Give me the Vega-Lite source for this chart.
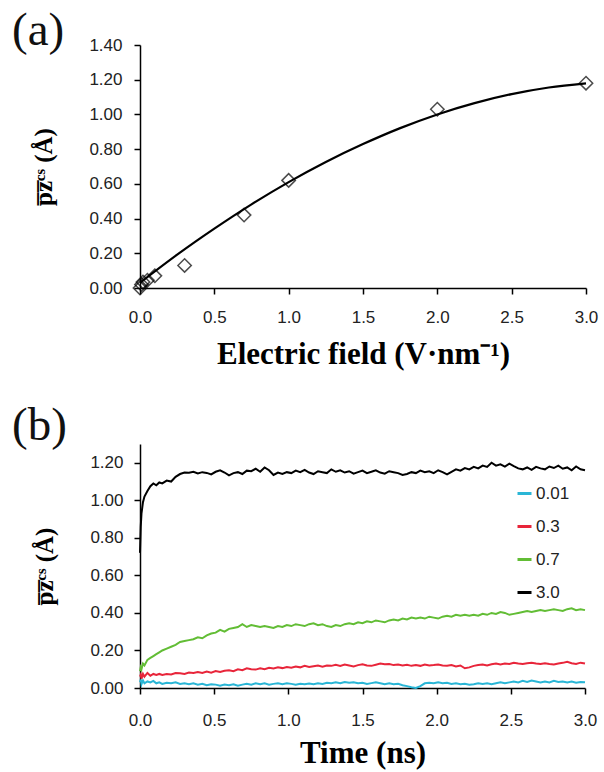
{
  "$schema": "https://vega.github.io/schema/vega-lite/v6.json",
  "background": "white",
  "padding": {"left": 12, "top": 7, "right": 5, "bottom": 2},
  "spacing": 33,
  "resolve": {"scale": {"color": "independent"}, "legend": {"color": "independent"}},
  "config": {
    "view": {"stroke": null},
    "axis": {"domainColor": "black", "domainWidth": 1.5, "tickColor": "black", "tickWidth": 1.5, "tickSize": 6, "grid": false,
      "labelFont": "Liberation Sans", "labelFontSize": 17, "labelColor": "#222", "labelFlush": false, "labelOverlap": false,
      "titleFont": "Liberation Serif", "titleFontSize": 31, "titleFontWeight": "bold", "titleColor": "black"},
    "axisY": {"titleFontSize": 25},
    "title": {"font": "Liberation Serif", "fontSize": 47, "fontWeight": "normal", "anchor": "start", "frame": "group", "color": "#111"},
    "legend": {"labelFont": "Liberation Sans", "labelFontSize": 17, "labelColor": "#222"}
  },
  "datasets": {
    "fit": [
      {"E": 0, "p": 0.03}, {"E": 0.25, "p": 0.192}, {"E": 0.5, "p": 0.342}, {"E": 0.75, "p": 0.482},
      {"E": 1.0, "p": 0.61}, {"E": 1.25, "p": 0.726}, {"E": 1.5, "p": 0.829}, {"E": 1.75, "p": 0.921},
      {"E": 2.0, "p": 1.0}, {"E": 2.25, "p": 1.065}, {"E": 2.5, "p": 1.117}, {"E": 2.75, "p": 1.155}, {"E": 3.0, "p": 1.179}
    ],
    "pts": [
      {"E": 0, "p": 0.0}, {"E": 0.01, "p": 0.02}, {"E": 0.02, "p": 0.035}, {"E": 0.05, "p": 0.045},
      {"E": 0.1, "p": 0.07}, {"E": 0.3, "p": 0.13}, {"E": 0.7, "p": 0.42}, {"E": 1.0, "p": 0.62},
      {"E": 2.0, "p": 1.03}, {"E": 3.0, "p": 1.18}
    ],
    "ts": [
      {"t":0,"a":0.03,"b":0.06,"c":0.09,"d":0.72},
      {"t":0.005,"a":0.045,"b":0.07,"c":0.11,"d":0.86},
      {"t":0.01,"a":0.02,"b":0.05,"c":0.10,"d":0.93},
      {"t":0.02,"a":0.04,"b":0.075,"c":0.13,"d":0.99},
      {"t":0.03,"a":0.025,"b":0.06,"c":0.12,"d":1.02},
      {"t":0.05,"a":0.035,"b":0.08,"c":0.15,"d":1.05},
      {"t":0.07,"a":0.03,"b":0.065,"c":0.16,"d":1.075},
      {"t":0.09,"a":0.038,"b":0.075,"c":0.17,"d":1.09},
      {"t":0.11,"a":0.025,"b":0.07,"c":0.18,"d":1.08},
      {"t":0.13,"a":0.03,"b":0.075,"c":0.19,"d":1.095},
      {"t":0.15,"a":0.022,"b":0.07,"c":0.20,"d":1.09},
      {"t":0.18,"a":0.028,"b":0.075,"c":0.21,"d":1.105},
      {"t":0.21,"a":0.025,"b":0.072,"c":0.22,"d":1.10},
      {"t":0.24,"a":0.03,"b":0.08,"c":0.23,"d":1.125},
      {"t":0.27,"a":0.022,"b":0.078,"c":0.245,"d":1.14},
      {"t":0.30,"a":0.025,"b":0.075,"c":0.25,"d":1.148},
      {"t":0.33,"a":0.02,"b":0.082,"c":0.255,"d":1.147},
      {"t":0.36,"a":0.025,"b":0.08,"c":0.26,"d":1.152},
      {"t":0.39,"a":0.018,"b":0.085,"c":0.27,"d":1.143},
      {"t":0.42,"a":0.022,"b":0.08,"c":0.265,"d":1.150},
      {"t":0.45,"a":0.015,"b":0.088,"c":0.28,"d":1.146},
      {"t":0.48,"a":0.02,"b":0.082,"c":0.29,"d":1.138},
      {"t":0.51,"a":0.018,"b":0.09,"c":0.295,"d":1.152},
      {"t":0.54,"a":0.012,"b":0.085,"c":0.31,"d":1.160},
      {"t":0.57,"a":0.018,"b":0.092,"c":0.30,"d":1.148},
      {"t":0.60,"a":0.015,"b":0.095,"c":0.315,"d":1.133},
      {"t":0.63,"a":0.02,"b":0.09,"c":0.32,"d":1.145},
      {"t":0.66,"a":0.012,"b":0.10,"c":0.325,"d":1.150},
      {"t":0.69,"a":0.018,"b":0.095,"c":0.34,"d":1.140},
      {"t":0.72,"a":0.022,"b":0.105,"c":0.325,"d":1.158},
      {"t":0.75,"a":0.018,"b":0.10,"c":0.335,"d":1.155},
      {"t":0.78,"a":0.025,"b":0.098,"c":0.33,"d":1.168},
      {"t":0.81,"a":0.02,"b":0.105,"c":0.325,"d":1.152},
      {"t":0.84,"a":0.025,"b":0.10,"c":0.33,"d":1.175},
      {"t":0.87,"a":0.018,"b":0.108,"c":0.325,"d":1.160},
      {"t":0.90,"a":0.022,"b":0.104,"c":0.32,"d":1.135},
      {"t":0.93,"a":0.025,"b":0.11,"c":0.33,"d":1.148},
      {"t":0.96,"a":0.02,"b":0.106,"c":0.325,"d":1.140},
      {"t":0.99,"a":0.025,"b":0.112,"c":0.335,"d":1.150},
      {"t":1.02,"a":0.022,"b":0.108,"c":0.33,"d":1.145},
      {"t":1.05,"a":0.018,"b":0.114,"c":0.34,"d":1.158},
      {"t":1.08,"a":0.022,"b":0.11,"c":0.335,"d":1.150},
      {"t":1.11,"a":0.02,"b":0.118,"c":0.33,"d":1.162},
      {"t":1.14,"a":0.024,"b":0.112,"c":0.34,"d":1.148},
      {"t":1.17,"a":0.02,"b":0.116,"c":0.345,"d":1.140},
      {"t":1.20,"a":0.025,"b":0.12,"c":0.335,"d":1.155},
      {"t":1.23,"a":0.022,"b":0.114,"c":0.34,"d":1.150},
      {"t":1.26,"a":0.028,"b":0.12,"c":0.33,"d":1.145},
      {"t":1.29,"a":0.025,"b":0.118,"c":0.325,"d":1.165},
      {"t":1.32,"a":0.03,"b":0.124,"c":0.335,"d":1.152},
      {"t":1.35,"a":0.025,"b":0.118,"c":0.33,"d":1.160},
      {"t":1.38,"a":0.032,"b":0.125,"c":0.34,"d":1.148},
      {"t":1.41,"a":0.028,"b":0.12,"c":0.345,"d":1.155},
      {"t":1.44,"a":0.03,"b":0.115,"c":0.34,"d":1.142},
      {"t":1.47,"a":0.025,"b":0.122,"c":0.35,"d":1.150},
      {"t":1.50,"a":0.028,"b":0.126,"c":0.345,"d":1.158},
      {"t":1.53,"a":0.022,"b":0.12,"c":0.355,"d":1.145},
      {"t":1.56,"a":0.026,"b":0.118,"c":0.35,"d":1.152},
      {"t":1.59,"a":0.03,"b":0.124,"c":0.36,"d":1.160},
      {"t":1.62,"a":0.025,"b":0.13,"c":0.355,"d":1.148},
      {"t":1.65,"a":0.02,"b":0.126,"c":0.35,"d":1.142},
      {"t":1.68,"a":0.025,"b":0.128,"c":0.36,"d":1.155},
      {"t":1.71,"a":0.02,"b":0.122,"c":0.365,"d":1.150},
      {"t":1.74,"a":0.022,"b":0.125,"c":0.36,"d":1.145},
      {"t":1.77,"a":0.015,"b":0.12,"c":0.37,"d":1.135},
      {"t":1.80,"a":0.01,"b":0.124,"c":0.365,"d":1.140},
      {"t":1.83,"a":0.004,"b":0.118,"c":0.375,"d":1.150},
      {"t":1.86,"a":0.0,"b":0.122,"c":0.37,"d":1.145},
      {"t":1.89,"a":0.01,"b":0.118,"c":0.375,"d":1.158},
      {"t":1.92,"a":0.025,"b":0.125,"c":0.37,"d":1.150},
      {"t":1.95,"a":0.028,"b":0.12,"c":0.38,"d":1.155},
      {"t":1.98,"a":0.025,"b":0.122,"c":0.375,"d":1.145},
      {"t":2.01,"a":0.03,"b":0.125,"c":0.37,"d":1.160},
      {"t":2.04,"a":0.025,"b":0.12,"c":0.38,"d":1.150},
      {"t":2.07,"a":0.028,"b":0.118,"c":0.385,"d":1.138},
      {"t":2.10,"a":0.022,"b":0.122,"c":0.38,"d":1.152},
      {"t":2.13,"a":0.025,"b":0.115,"c":0.39,"d":1.165},
      {"t":2.16,"a":0.02,"b":0.12,"c":0.385,"d":1.158},
      {"t":2.19,"a":0.022,"b":0.105,"c":0.39,"d":1.172},
      {"t":2.22,"a":0.018,"b":0.11,"c":0.385,"d":1.165},
      {"t":2.25,"a":0.02,"b":0.118,"c":0.39,"d":1.178},
      {"t":2.28,"a":0.025,"b":0.122,"c":0.385,"d":1.170},
      {"t":2.31,"a":0.022,"b":0.125,"c":0.395,"d":1.185},
      {"t":2.34,"a":0.025,"b":0.12,"c":0.39,"d":1.178},
      {"t":2.37,"a":0.02,"b":0.126,"c":0.40,"d":1.200},
      {"t":2.40,"a":0.025,"b":0.13,"c":0.395,"d":1.185},
      {"t":2.43,"a":0.03,"b":0.125,"c":0.405,"d":1.192},
      {"t":2.46,"a":0.025,"b":0.13,"c":0.40,"d":1.180},
      {"t":2.49,"a":0.03,"b":0.128,"c":0.39,"d":1.195},
      {"t":2.52,"a":0.035,"b":0.134,"c":0.395,"d":1.182},
      {"t":2.55,"a":0.03,"b":0.13,"c":0.40,"d":1.170},
      {"t":2.58,"a":0.038,"b":0.128,"c":0.405,"d":1.165},
      {"t":2.61,"a":0.032,"b":0.132,"c":0.41,"d":1.175},
      {"t":2.64,"a":0.04,"b":0.135,"c":0.405,"d":1.162},
      {"t":2.67,"a":0.035,"b":0.13,"c":0.41,"d":1.178},
      {"t":2.70,"a":0.03,"b":0.128,"c":0.415,"d":1.170},
      {"t":2.73,"a":0.035,"b":0.132,"c":0.41,"d":1.165},
      {"t":2.76,"a":0.03,"b":0.128,"c":0.415,"d":1.180},
      {"t":2.79,"a":0.038,"b":0.125,"c":0.42,"d":1.172},
      {"t":2.82,"a":0.032,"b":0.13,"c":0.415,"d":1.185},
      {"t":2.85,"a":0.035,"b":0.134,"c":0.41,"d":1.168},
      {"t":2.88,"a":0.03,"b":0.14,"c":0.42,"d":1.175},
      {"t":2.91,"a":0.035,"b":0.132,"c":0.425,"d":1.160},
      {"t":2.94,"a":0.028,"b":0.128,"c":0.415,"d":1.180},
      {"t":2.97,"a":0.032,"b":0.135,"c":0.42,"d":1.165},
      {"t":3.00,"a":0.03,"b":0.13,"c":0.415,"d":1.160}
    ]
  },
  "vconcat": [
    {
      "width": 446,
      "height": 243,
      "title": {"text": "(a)", "dx": -128, "offset": -19},
      "encoding": {
        "x": {"field": "E", "type": "quantitative", "scale": {"domain": [0, 3], "nice": false},
          "axis": {"values": [0, 0.5, 1, 1.5, 2, 2.5, 3], "format": ".1f", "labelPadding": 15, "titlePadding": 14, "title": "Electric field (V·nm⁻¹)"}},
        "y": {"field": "p", "type": "quantitative", "scale": {"domain": [0, 1.4], "nice": false},
          "axis": {"values": [0, 0.2, 0.4, 0.6, 0.8, 1.0, 1.2, 1.4], "format": ".2f", "labelPadding": 12, "titlePadding": 32, "title": "p̅z̅ᶜˢ  (Å)"}}
      },
      "layer": [
        {
          "data": {"name": "fit"},
          "mark": {"type": "line", "color": "black", "strokeWidth": 2.2, "interpolate": "monotone"}
        },
        {
          "data": {"name": "pts"},
          "mark": {"type": "point", "shape": "diamond", "filled": false, "color": "black", "size": 180, "strokeWidth": 1.5, "clip": false}
        }
      ]
    },
    {
      "width": 445,
      "height": 244,
      "title": {"text": "(b)", "dx": -128, "offset": -6},
      "data": {"name": "ts"},
      "transform": [{"fold": ["a", "b", "c", "d"], "as": ["series", "value"]}],
      "mark": {"type": "line", "strokeWidth": 2},
      "encoding": {
        "x": {"field": "t", "type": "quantitative", "scale": {"domain": [0, 3], "nice": false},
          "axis": {"values": [0, 0.5, 1, 1.5, 2, 2.5, 3], "format": ".1f", "labelPadding": 18, "titlePadding": 10, "title": "Time (ns)"}},
        "y": {"field": "value", "type": "quantitative", "scale": {"domain": [0, 1.3], "nice": false},
          "axis": {"values": [0, 0.2, 0.4, 0.6, 0.8, 1.0, 1.2], "format": ".2f", "labelPadding": 11, "titlePadding": 32, "title": "p̅z̅ᶜˢ  (Å)"}},
        "color": {"field": "series", "type": "nominal",
          "scale": {"domain": ["a", "b", "c", "d"], "range": ["#2ab6d6", "#e8253a", "#62bd35", "#000000"]},
          "legend": {"title": null, "orient": "none", "legendX": 376, "legendY": 41, "padding": 0,
            "symbolType": "stroke", "symbolSize": 196, "symbolStrokeWidth": 3, "labelOffset": 3, "rowPadding": 15,
            "labelExpr": "{'a':'0.01','b':'0.3','c':'0.7','d':'3.0'}[datum.label]"}}
      }
    }
  ]
}
